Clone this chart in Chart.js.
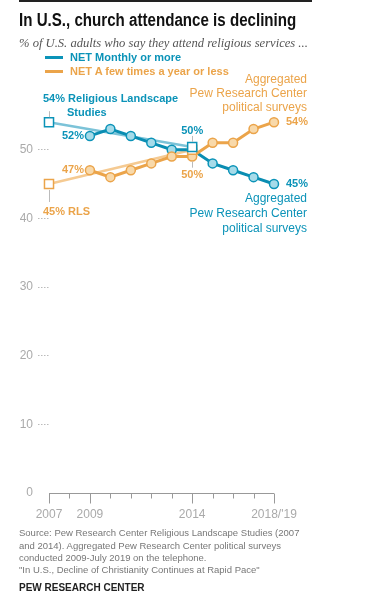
<!DOCTYPE html>
<html>
<head>
<meta charset="utf-8">
<script src="https://cdn.jsdelivr.net/npm/chart.js@4"></script>
<style>
  body { margin: 0; background: #fff; font-family: "Liberation Sans", Arial, sans-serif; }
  #wrap { position: relative; width: 375px; height: 597px; overflow: hidden; }
  #chart { position: absolute; left: 0; top: 0; }
  .abs { position: absolute; white-space: nowrap; }
  #rule { left: 19px; top: 0; width: 293px; height: 2px; background: #222; }
  #title { left: 19px; top: 10px; font-size: 18px; font-weight: bold; color: #111; transform: scaleX(0.84); transform-origin: left center; }
  #sub { left: 19px; top: 36px; font-family: "Liberation Serif", serif; font-style: italic; font-size: 12.6px; color: #555; }
  .leg { left: 45px; font-size: 11px; font-weight: bold; }
  .leg span { display: inline-block; width: 18px; height: 3px; vertical-align: middle; margin-right: 7px; position: relative; top: -1px; }
  .foot { left: 19px; font-size: 9.5px; color: #777; }
  #pew { left: 19px; top: 582px; font-size: 10px; font-weight: bold; color: #222; }
</style>
</head>
<body>
<div id="wrap">
  <canvas id="chart" width="375" height="597"></canvas>
  <div class="abs" id="rule"></div>
  <div class="abs" id="title">In U.S., church attendance is declining</div>
  <div class="abs" id="sub">% of U.S. adults who say they attend religious services ...</div>
  <div class="abs leg" style="top:51px;color:#0b93b8"><span style="background:#0b93b8"></span>NET Monthly or more</div>
  <div class="abs leg" style="top:65px;color:#eba44a"><span style="background:#eba44a"></span>NET A few times a year or less</div>
  <div class="abs foot" style="top:527px">Source: Pew Research Center Religious Landscape Studies (2007</div>
  <div class="abs foot" style="top:540px">and 2014). Aggregated Pew Research Center political surveys</div>
  <div class="abs foot" style="top:552px">conducted 2009-July 2019 on the telephone.</div>
  <div class="abs foot" style="top:564px">"In U.S., Decline of Christianity Continues at Rapid Pace"</div>
  <div class="abs" id="pew">PEW RESEARCH CENTER</div>
</div>
<script>
// ---------------------------
// DATA
// ---------------------------
const years = ['2007', '2008', '2009', '2010', '2011', '2012', '2013', '2014', '2015', '2016', '2017', "2018/'19"];
const shownYears = ['2007', '2009', '2014', "2018/'19"];

// aggregated political surveys
const monthlySurveys = [null, null, 52, 53, 52, 51, 50, 50, 48, 47, 46, 45];
const fewSurveys = [null, null, 47, 46, 47, 48, 49, 49, 51, 51, 53, 54];

// Religious Landscape Studies
const monthlyRLS = [54, null, null, null, null, null, null, 50.4, null, null, null, null];
const fewRLS = [45, null, null, null, null, null, null, 50, null, null, null, null];

const yTicks = [0, 10, 20, 30, 40, 50];

const BLUE = '#0b93b8';
const ORANGE = '#eba44a';
const FONT = '"Liberation Sans", Arial, sans-serif';

// ---------------------------
// ANNOTATIONS + X AXIS
// ---------------------------
const extras = {
  id: 'extras',
  afterDraw(chart) {
    const ctx = chart.ctx;
    const x = chart.scales.x, y = chart.scales.y;
    const px = i => x.getPixelForValue(i);
    const py = v => y.getPixelForValue(v);
    ctx.save();

    // baseline and ticks
    ctx.strokeStyle = '#999';
    ctx.lineWidth = 1;
    const base = Math.round(py(0)) + 0.5;
    ctx.beginPath();
    ctx.moveTo(px(0), base);
    ctx.lineTo(px(years.length - 1), base);
    years.forEach((yr, i) => {
      const xx = Math.round(px(i)) + 0.5;
      ctx.moveTo(xx, base);
      ctx.lineTo(xx, base + (shownYears.includes(yr) ? 10 : 5));
    });
    ctx.stroke();

    function txt(s, tx, ty, color, bold, align) {
      ctx.fillStyle = color;
      ctx.font = (bold ? 'bold 11px ' : '12px ') + FONT;
      ctx.textAlign = align;
      ctx.textBaseline = 'middle';
      ctx.fillText(s, tx, ty);
    }
    function vline(xx, y1, y2, color) {
      ctx.strokeStyle = color;
      ctx.lineWidth = 1;
      ctx.beginPath();
      ctx.moveTo(Math.round(xx) + 0.5, y1);
      ctx.lineTo(Math.round(xx) + 0.5, y2);
      ctx.stroke();
    }

    const last = years.length - 1;
    const i14 = years.indexOf('2014');
    const i09 = years.indexOf('2009');
    const grey = '#bbb';

    // RLS labels
    txt(monthlyRLS[0] + '% Religious Landscape', px(0) - 6, py(monthlyRLS[0]) - 23, BLUE, true, 'left');
    txt('Studies', px(0) + 18, py(monthlyRLS[0]) - 9, BLUE, true, 'left');
    vline(px(0), py(monthlyRLS[0]) - 11, py(monthlyRLS[0]) - 5, grey);
    txt(fewRLS[0] + '% RLS', px(0) - 6, py(fewRLS[0]) + 28, ORANGE, true, 'left');
    vline(px(0), py(fewRLS[0]) + 6, py(fewRLS[0]) + 18, grey);

    txt(Math.round(monthlyRLS[i14]) + '%', px(i14), py(monthlyRLS[i14]) - 16, BLUE, true, 'center');
    vline(px(i14), py(monthlyRLS[i14]) - 11, py(monthlyRLS[i14]) - 5, grey);
    txt(fewRLS[i14] + '%', px(i14), py(fewRLS[i14]) + 25, ORANGE, true, 'center');
    vline(px(i14), py(fewSurveys[i14]) + 5, py(fewRLS[i14]) + 18, grey);

    // survey labels
    txt(monthlySurveys[i09] + '%', px(i09) - 6, py(monthlySurveys[i09]), BLUE, true, 'right');
    txt(fewSurveys[i09] + '%', px(i09) - 6, py(fewSurveys[i09]), ORANGE, true, 'right');
    txt(monthlySurveys[last] + '%', px(last) + 12, py(monthlySurveys[last]), BLUE, true, 'left');
    txt(fewSurveys[last] + '%', px(last) + 12, py(fewSurveys[last]), ORANGE, true, 'left');

    const agg = ['Aggregated', 'Pew Research Center', 'political surveys'];
    agg.forEach((s, k) => {
      txt(s, px(last) + 33, py(monthlySurveys[last]) + 15 + k * 15, BLUE, false, 'right');
      txt(s, px(last) + 33, py(fewSurveys[last]) - 43 + k * 14.3, ORANGE, false, 'right');
    });

    ctx.restore();
  }
};

// ---------------------------
// CHART
// ---------------------------
new Chart(document.getElementById('chart'), {
  type: 'line',
  data: {
    labels: years,
    datasets: [
      {
        data: monthlyRLS, borderColor: '#7cc3d8', borderWidth: 2.5, pointRadius: 0,
        spanGaps: true, clip: false, order: 3
      },
      {
        data: fewRLS, borderColor: '#f5ca92', borderWidth: 2.5, pointRadius: 0,
        spanGaps: true, clip: false, order: 3
      },
      {
        data: fewSurveys, borderColor: ORANGE, borderWidth: 3,
        pointRadius: 4.5, pointBackgroundColor: '#f8d9aa', pointBorderColor: ORANGE,
        pointBorderWidth: 1.5, clip: false, order: 2
      },
      {
        data: monthlySurveys, borderColor: '#0a8db2', borderWidth: 3,
        pointRadius: 4.5, pointBackgroundColor: '#a6dbe9', pointBorderColor: BLUE,
        pointBorderWidth: 1.5, clip: false, order: 2
      },
      {
        data: monthlyRLS, showLine: false, pointStyle: 'rect', pointRadius: 6.4,
        pointBackgroundColor: '#fff', pointBorderColor: BLUE, pointBorderWidth: 1.5,
        clip: false, order: 1
      },
      {
        data: fewRLS, showLine: false, pointStyle: 'rect', pointRadius: 6.4,
        pointBackgroundColor: '#fff', pointBorderColor: ORANGE, pointBorderWidth: 1.5,
        clip: false, order: 1
      }
    ]
  },
  options: {
    responsive: false,
    animation: false,
    layout: { padding: { top: 81, right: 101, bottom: 74, left: 0 } },
    plugins: { legend: { display: false }, tooltip: { enabled: false } },
    scales: {
      x: {
        afterFit(s) { s.height = 30; },
        grid: { display: false, drawTicks: false },
        border: { display: false },
        ticks: {
          autoSkip: false, maxRotation: 0, padding: 14,
          color: '#aaa', font: { family: FONT, size: 12 },
          callback: (v, i) => shownYears.includes(years[i]) ? years[i] : ''
        }
      },
      y: {
        min: 0, max: 60,
        afterFit(s) { s.width = 49; },
        afterBuildTicks(s) { s.ticks = yTicks.map(v => ({ value: v })).concat([{ value: 60 }]); },
        grid: {
          drawOnChartArea: false, tickLength: 11, tickBorderDash: [1.5, 1.5],
          tickColor: c => (c.tick && (c.tick.value === 0 || c.tick.value === 60)) ? 'rgba(0,0,0,0)' : '#bbb'
        },
        border: { display: false },
        ticks: {
          padding: 5, color: '#aaa', font: { family: FONT, size: 12 },
          callback: v => yTicks.includes(v) ? v : ''
        }
      }
    }
  },
  plugins: [extras]
});
</script>
</body>
</html>
